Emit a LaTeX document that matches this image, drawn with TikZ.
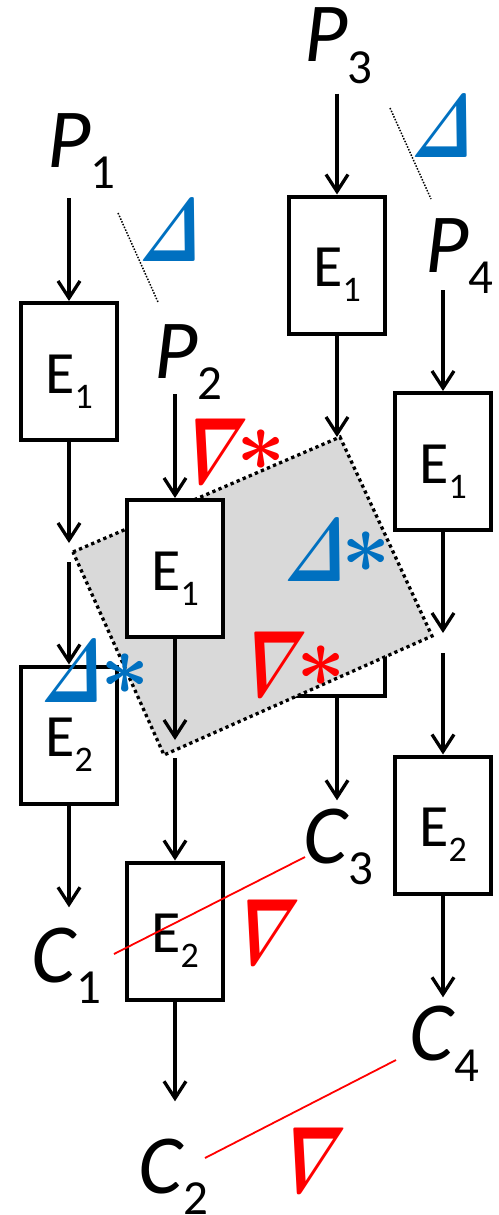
\documentclass[tikz,border=0pt]{standalone}
\usepackage{fix-cm}
\usepackage{amsmath}
\usepackage[no-math]{fontspec}
\setmainfont{Carlito}
\usetikzlibrary{arrows.meta}
\definecolor{myblue}{HTML}{0070C0}
\definecolor{myred}{HTML}{FF0000}
\definecolor{mygrey}{HTML}{D9D9D9}
\newcommand\Lbl[2]{\textit{#1}\raisebox{-21pt}{\fontsize{49}{50}\selectfont #2}}
\newcommand\Esub[1]{E\raisebox{-15pt}{\fontsize{36}{36}\selectfont #1}}
\begin{document}
\begin{tikzpicture}[x=1pt,y=-1pt,
  conn/.style={line width=3.3pt,-{Straight Barb[length=17pt,width=22pt]}},
  ebox/.style={draw,line width=4pt,fill=white,minimum width=96pt,minimum height=137pt,
    inner sep=0pt,text height=43pt,text depth=0pt,font=\fontsize{60}{60}\selectfont},
  lbl/.style={inner sep=0pt,anchor=base west,font=\fontsize{84}{90}\selectfont},
  bluetri/.style={inner sep=0pt,transform shape,xslant=0.2,xscale=0.68,text=myblue,font=\fontsize{90}{96}\selectfont},
  redtri/.style={inner sep=0pt,transform shape,xslant=0.3,xscale=0.63,text=myred,font=\fontsize{94}{96}\selectfont},
  astx/.style={inner sep=0pt,font=\fontsize{86}{86}\selectfont},
  sqline/.style={line width=3.3pt,dash pattern=on 3.3pt off 3.3pt,fill=mygrey},
  thindot/.style={line width=1.5pt,dash pattern=on 1.5pt off 1.5pt},
  redline/.style={myred,line width=1.8pt}]
\useasboundingbox (0,0) rectangle (498,1215);
% hidden box behind the grey area
\node[ebox] (e32) at (337,627.5) {};
% grey rotated area
\coordinate (sqL) at (73,552);
\coordinate (sqT) at (340,437);
\coordinate (sqR) at (432,636);
\coordinate (sqB) at (164,755);
\draw[sqline] (sqL) -- (sqT) -- (sqR) -- (sqB) -- cycle;
% boxes
\node[ebox] (e11) at (69,371.5) {\Esub{1}};
\node[ebox] (e12) at (69,735) {\Esub{2}};
\node[ebox] (e21) at (175,568.5) {\Esub{1}};
\node[ebox] (e22) at (175,931) {\Esub{2}};
\node[ebox] (e31) at (337,265) {\Esub{1}};
\node[ebox] (e41) at (443,461.5) {\Esub{1}};
\node[ebox] (e42) at (443,825) {\Esub{2}};
% labels
\node[lbl] (p1) at (47,167) {\Lbl{P}{1}};
\node[lbl] (p2) at (154,378) {\Lbl{P}{2}};
\node[lbl] (p3) at (304,62) {\Lbl{P}{3}};
\node[lbl] (p4) at (425,272) {\Lbl{P}{4}};
\node[lbl] (c1) at (31,982) {\Lbl{C}{1}};
\node[lbl] (c2) at (138,1193) {\Lbl{C}{2}};
\node[lbl] (c3) at (303,863) {\Lbl{C}{3}};
\node[lbl] (c4) at (409,1060) {\Lbl{C}{4}};
% junction points
\coordinate (j1i) at (69,543); \coordinate (j1o) at (69,562);
\coordinate (j2i) at (175,740); \coordinate (j2o) at (175,758);
\coordinate (j4i) at (443,633); \coordinate (j4o) at (443,653);
% connectors
\draw[conn,shorten <=10pt] (e11.north |- p1.south) -- (e11.north);
\draw[conn] (e11.south) -- (j1i);
\draw[conn] (j1o) -- (e12.north);
\draw[conn,shorten >=20pt] (e12.south) -- (e12.south |- c1.north);
\draw[conn,shorten <=-5pt] (e21.north |- p2.south) -- (e21.north);
\draw[conn] (e21.south) -- (j2i);
\draw[conn] (j2o) -- (e22.north);
\draw[conn,shorten >=37pt] (e22.south) -- (e22.south |- c2.north);
\draw[conn,shorten <=10pt] (e31.north |- p3.south) -- (e31.north);
\draw[conn] (e31.south) -- (e31.south |- sqT);
\draw[conn,shorten >=8pt] (e32.south) -- (e32.south |- c3.north);
\draw[conn,shorten <=-3pt] (e41.north |- p4.south) -- (e41.north);
\draw[conn] (e41.south) -- (j4i);
\draw[conn] (j4o) -- (e42.north);
\draw[conn,shorten >=8pt] (e42.south) -- (e42.south |- c4.north);
% thin dotted separators
\coordinate (d1a) at (118,213); \coordinate (d1b) at (158,302);
\coordinate (d2a) at (390,108); \coordinate (d2b) at (431,199);
\draw[thindot] (d1a) -- (d1b);
\draw[thindot] (d2a) -- (d2b);
% red lines
\coordinate (r1a) at (114,954); \coordinate (r1b) at (305,857);
\coordinate (r2a) at (205,1158); \coordinate (r2b) at (396,1060);
\draw[redline] (r1a) -- (r1b);
\draw[redline] (r2a) -- (r2b);
% symbol positions
\coordinate (tA) at (175,231);
\coordinate (tB) at (447,127);
\coordinate (tC) at (212,451);
\coordinate (tD) at (320,551);
\coordinate (tE) at (271,664);
\coordinate (tF) at (77,672);
\coordinate (tG) at (264,932);
\coordinate (tH) at (310,1160);
\node[bluetri] (dA) at (tA) {$\boldsymbol{\varDelta}$};
\node[bluetri] (dB) at (tB) {$\boldsymbol{\varDelta}$};
\node[redtri] (nC) at (tC) {$\boldsymbol{\nabla}$};
\node[astx,text=myred] (sC) at (261,450) {$\boldsymbol{\ast}$};
\node[bluetri] (dD) at (tD) {$\boldsymbol{\varDelta}$};
\node[astx,text=myblue] (sD) at (366,552) {$\boldsymbol{\ast}$};
\node[redtri] (nE) at (tE) {$\boldsymbol{\nabla}$};
\node[astx,text=myred] (sE) at (321,666) {$\boldsymbol{\ast}$};
\node[bluetri] (dF) at (tF) {$\boldsymbol{\varDelta}$};
\node[astx,text=myblue] (sF) at (125,674) {$\boldsymbol{\ast}$};
\node[redtri] (nG) at (tG) {$\boldsymbol{\nabla}$};
\node[redtri] (nH) at (tH) {$\boldsymbol{\nabla}$};
\end{tikzpicture}
\end{document}
